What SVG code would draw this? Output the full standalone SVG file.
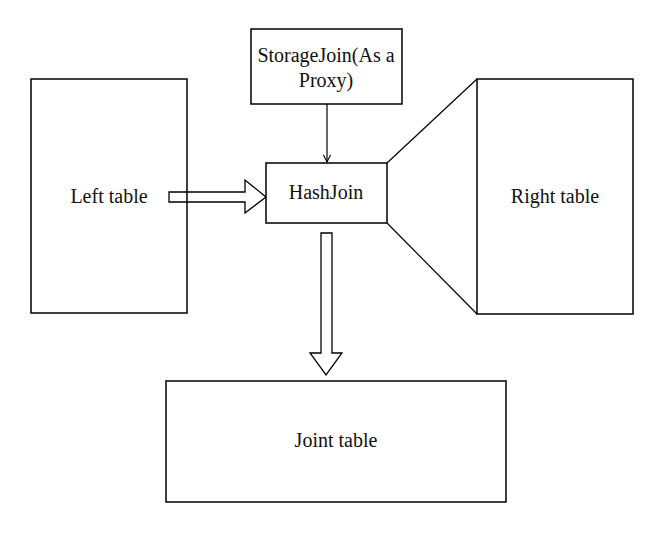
<svg xmlns="http://www.w3.org/2000/svg" width="658" height="536" viewBox="0 0 658 536">
<style>
.box{fill:#fff;stroke:#000;stroke-width:1.5}
.ln{fill:none;stroke:#000;stroke-width:1.2}
.fat{fill:#fff;stroke:#000;stroke-width:1.3;stroke-linejoin:miter}
text{font-family:"Liberation Serif","DejaVu Serif",serif;font-size:20px;fill:#111;text-anchor:middle}
</style>
<defs>
<marker id="ah" viewBox="0 0 10 10" refX="9" refY="5" markerWidth="9" markerHeight="9" orient="auto" markerUnits="userSpaceOnUse">
<path d="M1,1 L9,5 L1,9" fill="none" stroke="#000" stroke-width="1.2"/>
</marker>
</defs>
<rect width="658" height="536" fill="#fff"/>
<g id="connectors">
<line class="ln" x1="327" y1="104" x2="327" y2="162" marker-end="url(#ah)"/>
<path class="fat" d="M169,192 L245,192 L245,180 L266,197 L245,213 L245,202 L169,202 Z"/>
<path class="fat" d="M321,233 L332,233 L332,353 L342,353 L326,375 L310,353 L321,353 Z"/>
<line class="ln" x1="387" y1="163" x2="477" y2="79"/>
<line class="ln" x1="387" y1="223" x2="477" y2="314"/>
</g>
<g id="left-table">
<rect class="box" x="31" y="79" width="156" height="234" fill-opacity="0"/>
<text x="109" y="203">Left table</text>
</g>
<g id="storage-join">
<rect class="box" x="251" y="29" width="151" height="75"/>
<text x="326" y="62">StorageJoin(As a</text>
<text x="326" y="87">Proxy)</text>
</g>
<g id="hash-join">
<rect class="box" x="266" y="163" width="121" height="60"/>
<text x="326" y="199">HashJoin</text>
</g>
<g id="right-table">
<rect class="box" x="477" y="79" width="156" height="235"/>
<text x="555" y="203">Right table</text>
</g>
<g id="joint-table">
<rect class="box" x="166" y="381" width="340" height="121"/>
<text x="336" y="447">Joint table</text>
</g>
</svg>
